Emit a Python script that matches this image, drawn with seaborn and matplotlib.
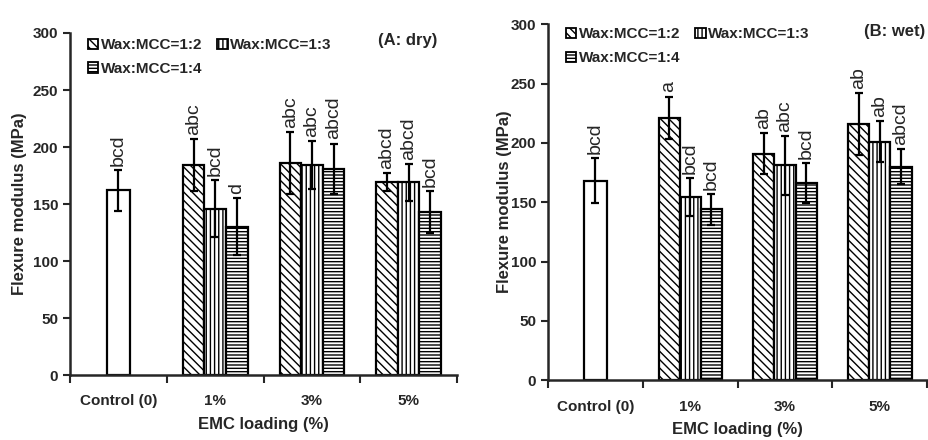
import numpy as np
import pandas as pd
import seaborn as sns
import matplotlib.pyplot as plt
from matplotlib.patches import Patch

# categories and groups
categories = ["Control (0)", "1%", "3%", "5%"]
loadings = ["1%", "3%", "5%"]
ratios = ["Wax:MCC=1:2", "Wax:MCC=1:3", "Wax:MCC=1:4"]
hatches = ["\\\\\\\\", "||||", "-----"]

# (A: dry) values
dry_control = 162
dry_control_sd = 18
dry_control_letter = "bcd"
dry_12 = [184, 186, 169]
dry_13 = [146, 184, 169]
dry_14 = [130, 181, 143]
dry_12_sd = [23, 27, 8]
dry_13_sd = [25, 21, 16]
dry_14_sd = [25, 22, 18]
dry_12_letters = ["abc", "abc", "abcd"]
dry_13_letters = ["bcd", "abc", "abcd"]
dry_14_letters = ["d", "abcd", "bcd"]

# (B: wet)
wet_control = 168
wet_control_sd = 19
wet_control_letter = "bcd"
wet_12 = [221, 191, 216]
wet_13 = [154, 181, 201]
wet_14 = [144, 166, 180]
wet_12_sd = [18, 17, 26]
wet_13_sd = [16, 25, 17]
wet_14_sd = [13, 17, 15]
wet_12_letters = ["a", "ab", "ab"]
wet_13_letters = ["bcd", "abc", "ab"]
wet_14_letters = ["bcd", "bcd", "abcd"]

sns.set_style("ticks")
plt.rcParams['font.family'] = ['Liberation Sans', 'DejaVu Sans']
plt.rcParams['hatch.linewidth'] = 1.0


def draw_panel(ax, ctrl, ctrl_sd, ctrl_letter, series, sds, letters, tag,
               tag_x, ylab_x, leg_y):
    ctrl_df = pd.DataFrame({"loading": [categories[0]], "value": [ctrl]})
    sns.barplot(data=ctrl_df, x="loading", y="value", order=categories,
                width=0.24, color="white", edgecolor="black", linewidth=1.6,
                errorbar=None, ax=ax)

    rows = []
    for r, vals in zip(ratios, series):
        for l, v in zip(loadings, vals):
            rows.append({"loading": l, "ratio": r, "value": v})
    df = pd.DataFrame(rows)
    sns.barplot(data=df, x="loading", y="value", hue="ratio", order=categories,
                hue_order=ratios, width=0.67, palette=["white"] * 3,
                edgecolor="black", linewidth=1.6, errorbar=None, legend=False, ax=ax)

    # control bar error + letter
    cbar = ax.containers[0].patches[0]
    cx = cbar.get_x() + cbar.get_width() / 2
    ax.errorbar(cx, ctrl, yerr=ctrl_sd, fmt="none", ecolor="black",
                elinewidth=1.6, capsize=3, capthick=1.6, zorder=5)
    ax.annotate(ctrl_letter, (cx, ctrl + ctrl_sd), xytext=(0, 3),
                textcoords="offset points", rotation=90, ha="center", va="bottom",
                fontsize=14)

    for cont, h, sd, lets in zip(ax.containers[1:], hatches, sds, letters):
        for bar, s, t in zip(cont.patches, sd, lets):
            bar.set_hatch(h)
            bar.set_facecolor("white")
            bx = bar.get_x() + bar.get_width() / 2
            by = bar.get_height()
            ax.errorbar(bx, by, yerr=s, fmt="none", ecolor="black",
                        elinewidth=1.6, capsize=3, capthick=1.6, zorder=5)
            ax.annotate(t, (bx, by + s), xytext=(0, 3), textcoords="offset points",
                        rotation=90, ha="center", va="bottom", fontsize=14)

    ax.set_xlim(-0.5, 3.5)
    ax.set_ylim(0, 300)
    ax.set_yticks(np.arange(0, 301, 50))
    ax.set_xticks([-0.5, 0.5, 1.5, 2.5, 3.5])
    ax.set_xticklabels([])
    ax.set_xticks(range(len(categories)), minor=True)
    ax.set_xticklabels(categories, minor=True, fontsize=11, fontweight="bold")
    ax.tick_params(axis="x", which="minor", length=0, pad=14)
    ax.tick_params(axis="x", which="major", length=6, width=1.5, direction="out")
    ax.tick_params(axis="y", length=5, width=1.5, direction="out", labelsize=11)
    for lab in ax.get_yticklabels():
        lab.set_fontweight("bold")
    for sp in ["left", "bottom"]:
        ax.spines[sp].set_linewidth(1.8)
    sns.despine(ax=ax)
    ax.set_xlabel("EMC loading (%)", fontsize=12, fontweight="bold", labelpad=6)
    ax.set_ylabel("Flexure modulus (MPa)", fontsize=12, fontweight="bold")
    ax.yaxis.set_label_coords(ylab_x, 0.5)

    handles = [Patch(facecolor="white", edgecolor="black", hatch=h, linewidth=1.3)
               for h in hatches]
    order = [0, 2, 1]
    ax.legend([handles[i] for i in order], [ratios[i] for i in order], ncol=2,
              loc="upper left", bbox_to_anchor=(0.01, leg_y), frameon=False,
              handlelength=0.7, handleheight=0.7, handletextpad=0.15,
              columnspacing=1.0, labelspacing=0.65,
              prop={"size": 11, "weight": "bold"})
    ax.text(tag_x, 1.0, tag, transform=ax.transAxes, ha="right", va="top",
            fontsize=12, fontweight="bold")


fig = plt.figure(figsize=(9.29, 4.4), dpi=100)
ax1 = fig.add_axes([0.0754, 0.1477, 0.4166, 0.7773])
ax2 = fig.add_axes([0.590, 0.136, 0.408, 0.809])

draw_panel(ax1, dry_control, dry_control_sd, dry_control_letter,
           [dry_12, dry_13, dry_14], [dry_12_sd, dry_13_sd, dry_14_sd],
           [dry_12_letters, dry_13_letters, dry_14_letters], "(A: dry)",
           0.95, -0.11, 1.025)
draw_panel(ax2, wet_control, wet_control_sd, wet_control_letter,
           [wet_12, wet_13, wet_14], [wet_12_sd, wet_13_sd, wet_14_sd],
           [wet_12_letters, wet_13_letters, wet_14_letters], "(B: wet)",
           0.995, -0.095, 1.03)

fig.savefig("out.png", dpi=100)
